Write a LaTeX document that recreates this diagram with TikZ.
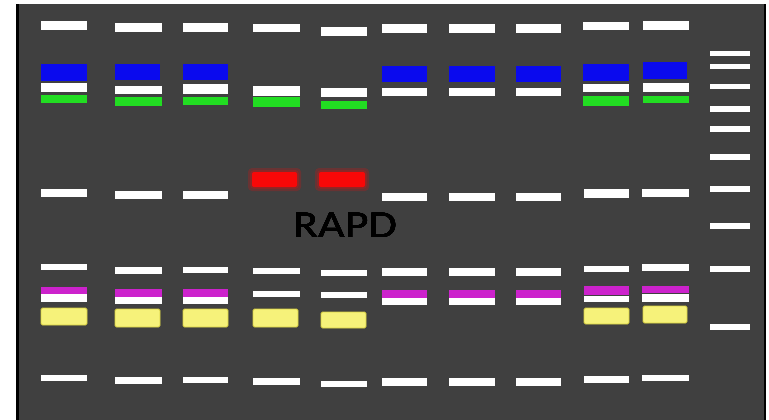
\documentclass[tikz,border=0pt]{standalone}
\usepackage{fontspec}
\setmainfont{Carlito}
\definecolor{gel}{HTML}{404040}
\definecolor{bandblue}{HTML}{0A0AEE}
\definecolor{bandgreen}{HTML}{22DD22}
\definecolor{bandmag}{HTML}{CC22CC}
\definecolor{bandyel}{HTML}{F6F27A}
\definecolor{bandyeledge}{HTML}{D8D040}
\definecolor{bandred}{HTML}{F80808}
\tikzset{
  wb/.style={fill=white},
  bb/.style={fill=bandblue},
  gb/.style={fill=bandgreen},
  mb/.style={fill=bandmag},
  yb/.style={fill=bandyel, draw=bandyeledge, line width=0.8pt, rounded corners=1.5pt},
  rb/.style={fill=bandred, rounded corners=2pt},
  rglow/.style={fill=bandred, opacity=0.22, rounded corners=4pt},
}
\newcommand{\bnd}[5]{\path[#5] (#1,#2) rectangle (#3,#4);}
\begin{document}
\begin{tikzpicture}[x=1pt,y=-1pt]
\useasboundingbox (0,0) rectangle (769,420);
\fill[white] (0,0) rectangle (769,420);
\fill[gel] (17,4) rectangle (765,420);
\fill[black] (16,4) rectangle (18.5,420);
\fill[black] (763.5,4) rectangle (766,420);
% ---- Lane 1 (41-87)
\bnd{41}{21}{87}{30}{wb}
\bnd{41}{64}{87}{81}{bb}
\bnd{41}{83}{87}{92}{wb}
\bnd{41}{95}{87}{103}{gb}
\bnd{41}{189}{87}{197}{wb}
\bnd{41}{264}{87}{270}{wb}
\bnd{41}{287}{87}{294}{mb}
\bnd{41}{294}{87}{302}{wb}
\bnd{41}{308}{87}{325}{yb}
\bnd{41}{375}{87}{381}{wb}
% ---- Lane 2 (115-162)
\bnd{115}{23}{162}{32}{wb}
\bnd{115}{64}{160}{80}{bb}
\bnd{115}{86}{162}{94}{wb}
\bnd{115}{97}{162}{106}{gb}
\bnd{115}{191}{162}{199}{wb}
\bnd{115}{267}{162}{274}{wb}
\bnd{115}{289}{162}{297}{mb}
\bnd{115}{297}{162}{304}{wb}
\bnd{115}{309}{160}{327}{yb}
\bnd{115}{377}{162}{384}{wb}
% ---- Lane 3 (183-228)
\bnd{183}{23}{228}{32}{wb}
\bnd{183}{64}{228}{80}{bb}
\bnd{183}{84}{228}{94}{wb}
\bnd{183}{97}{228}{105}{gb}
\bnd{183}{191}{228}{199}{wb}
\bnd{183}{267}{228}{273}{wb}
\bnd{183}{289}{228}{297}{mb}
\bnd{183}{297}{228}{304}{wb}
\bnd{183}{309}{228}{327}{yb}
\bnd{183}{377}{228}{383}{wb}
% ---- Lane 4 (253-300)
\bnd{253}{24}{300}{32}{wb}
\bnd{253}{86}{300}{96}{wb}
\bnd{253}{97}{300}{107}{gb}
\bnd{248}{168}{301}{191}{rglow}
\bnd{250}{170}{299}{189}{rglow}
\bnd{252}{172}{297}{187}{rb}
\bnd{253}{268}{300}{274}{wb}
\bnd{253}{291}{300}{297}{wb}
\bnd{253}{309}{298}{327}{yb}
\bnd{253}{378}{300}{385}{wb}
% ---- Lane 5 (321-367)
\bnd{321}{27}{367}{36}{wb}
\bnd{321}{88}{367}{97}{wb}
\bnd{321}{101}{367}{109}{gb}
\bnd{315}{168}{369}{191}{rglow}
\bnd{317}{170}{367}{189}{rglow}
\bnd{319}{172}{365}{187}{rb}
\bnd{321}{270}{367}{276}{wb}
\bnd{321}{292}{367}{298}{wb}
\bnd{321}{312}{366}{328}{yb}
\bnd{321}{381}{367}{387}{wb}
% ---- Lane 6 (382-427)
\bnd{382}{24}{427}{33}{wb}
\bnd{382}{66}{427}{82}{bb}
\bnd{382}{88}{427}{96}{wb}
\bnd{382}{193}{427}{201}{wb}
\bnd{382}{268}{427}{276}{wb}
\bnd{382}{290}{427}{298}{mb}
\bnd{382}{298}{427}{305}{wb}
\bnd{382}{378}{427}{386}{wb}
% ---- Lane 7 (449-495)
\bnd{449}{24}{495}{33}{wb}
\bnd{449}{66}{495}{82}{bb}
\bnd{449}{88}{495}{96}{wb}
\bnd{449}{193}{495}{201}{wb}
\bnd{449}{268}{495}{276}{wb}
\bnd{449}{290}{495}{298}{mb}
\bnd{449}{298}{495}{305}{wb}
\bnd{449}{378}{495}{386}{wb}
% ---- Lane 8 (516-561)
\bnd{516}{24}{561}{33}{wb}
\bnd{516}{66}{561}{82}{bb}
\bnd{516}{88}{561}{96}{wb}
\bnd{516}{193}{561}{201}{wb}
\bnd{516}{268}{561}{276}{wb}
\bnd{516}{290}{561}{298}{mb}
\bnd{516}{298}{561}{305}{wb}
\bnd{516}{378}{561}{386}{wb}
% ---- Lane 9 (583-629)
\bnd{583}{22}{629}{30}{wb}
\bnd{583}{64}{629}{81}{bb}
\bnd{583}{84}{629}{92}{wb}
\bnd{583}{96}{629}{106}{gb}
\bnd{584}{189}{629}{198}{wb}
\bnd{584}{266}{629}{272}{wb}
\bnd{584}{286}{629}{295}{mb}
\bnd{584}{296}{629}{302}{wb}
\bnd{584}{308}{629}{324}{yb}
\bnd{584}{376}{629}{383}{wb}
% ---- Lane 10 (643-689)
\bnd{643}{21}{689}{30}{wb}
\bnd{643}{62}{687}{79}{bb}
\bnd{643}{83}{689}{92}{wb}
\bnd{643}{96}{689}{103}{gb}
\bnd{642}{189}{689}{197}{wb}
\bnd{642}{264}{689}{271}{wb}
\bnd{642}{286}{689}{293}{mb}
\bnd{642}{294}{689}{302}{wb}
\bnd{643}{306}{687}{323}{yb}
\bnd{642}{375}{689}{381}{wb}
% ---- Ladder (710-750)
\foreach \y in {51,64,84,106,126,154,186,223,266,324}
  \bnd{710}{\y}{750}{\y+5.5}{wb}
% ---- Label
\node[anchor=base west, inner sep=0pt, font=\fontsize{38}{38}\selectfont, xscale=1.21] (lbl) at (293,237.5) {RAPD};
\end{tikzpicture}
\end{document}
